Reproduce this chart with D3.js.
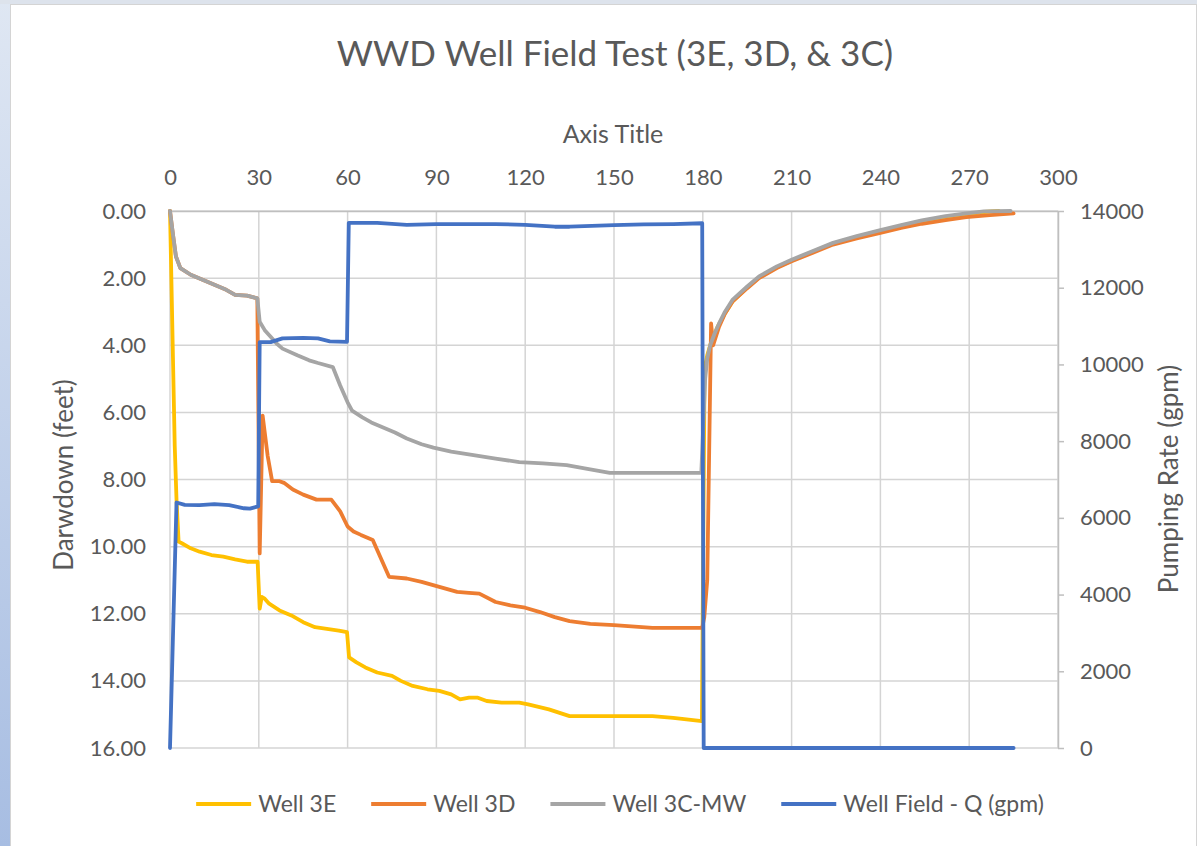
<!DOCTYPE html>
<html>
<head>
<meta charset="utf-8">
<script src="https://cdn.jsdelivr.net/npm/d3@7"></script>
<style>
  html, body { margin: 0; padding: 0; background: #ffffff; }
  svg { display: block; }
  text { font-family: Lato, "Open Sans", sans-serif; fill: #595959; }
</style>
</head>
<body>
<svg id="chart" width="1197" height="846"></svg>
<script>
// time (minutes) vs drawdown (feet) and pumping rate (gpm)
const TITLE = "WWD Well Field Test (3E, 3D, & 3C)";
const X_TICKS = [0, 30, 60, 90, 120, 150, 180, 210, 240, 270, 300];
const Y_LEFT_TICKS = [0, 2, 4, 6, 8, 10, 12, 14, 16];
const Y_RIGHT_TICKS = [0, 2000, 4000, 6000, 8000, 10000, 12000, 14000];

const well3E = [
  [0, 0], [0.8, 3.5], [1.6, 7.0], [2.2, 8.6], [2.9, 9.85], [4, 9.9], [7, 10.05], [10, 10.15],
  [14, 10.25], [18, 10.3], [22, 10.38], [26, 10.45], [29.6, 10.45], [30.3, 11.85], [31, 11.5],
  [32, 11.55], [33.5, 11.7], [37, 11.9], [41, 12.05], [45, 12.25], [49, 12.4], [53, 12.45],
  [57, 12.5], [59.8, 12.55], [60.5, 13.3], [63, 13.45], [66, 13.6], [70, 13.75], [75, 13.85],
  [78, 14.0], [82, 14.15], [87, 14.25], [91, 14.3], [95, 14.4], [98, 14.55], [101, 14.5],
  [104, 14.5], [107, 14.6], [112, 14.65], [118, 14.65], [121, 14.7], [128, 14.85], [135, 15.05],
  [150, 15.05], [163, 15.05], [170, 15.1], [179.7, 15.2],
  [180.6, 4.7], [181.5, 4.3], [183, 3.85], [185, 3.45], [187.5, 3.05], [190, 2.7], [195, 2.28],
  [199, 1.98], [205, 1.68], [210, 1.48], [217, 1.22], [224, 0.97], [232, 0.77], [240, 0.59],
  [247, 0.44], [254, 0.3], [262, 0.18], [269, 0.1], [275, 0.03], [280, 0]
];

const well3D = [
  [0, 0], [1, 0.7], [2, 1.35], [3.5, 1.7], [7, 1.9], [11, 2.05], [15, 2.2], [19, 2.35],
  [22, 2.5], [26, 2.52], [29.5, 2.6],
  [30.3, 10.2], [31.3, 6.1], [33, 7.3], [34.5, 8.05], [37, 8.05], [38.5, 8.1], [41.5, 8.3],
  [45, 8.45], [49.5, 8.6], [54.5, 8.6], [57.5, 8.95], [60, 9.4], [62, 9.55], [64.5, 9.65],
  [68.5, 9.8], [74, 10.9], [80, 10.95], [85, 11.05], [91, 11.2],
  [97, 11.35], [101, 11.38], [104.5, 11.4], [110, 11.65], [115, 11.75], [120, 11.82],
  [125, 11.95], [130, 12.1], [135, 12.22], [142, 12.3], [150, 12.34], [163, 12.42], [179.8, 12.42],
  [180.5, 12.1], [181.5, 11.0], [182.8, 3.35], [183.5, 4.0], [185.5, 3.45], [187.5, 3.05],
  [190, 2.7], [195, 2.3], [199, 2.0], [205, 1.7], [210, 1.5], [217, 1.25], [224, 1.0],
  [232, 0.82], [240, 0.65], [247, 0.5], [254, 0.38], [262, 0.27], [269, 0.18], [277, 0.12], [285, 0.07]
];

const well3C = [
  [0, 0], [1, 0.7], [2, 1.35], [3.5, 1.7], [7, 1.9], [11, 2.05], [15, 2.2], [19, 2.35],
  [22, 2.5], [26, 2.52], [29.5, 2.6], [30.3, 3.3], [32, 3.55], [34, 3.75], [36, 3.95],
  [38, 4.1], [43, 4.3], [47, 4.45], [50, 4.53], [55, 4.65], [57.5, 5.2], [60, 5.7],
  [61.5, 5.95], [65, 6.15], [68, 6.3], [72, 6.45], [76, 6.6], [80, 6.78], [85, 6.95],
  [89, 7.05], [95, 7.17], [102, 7.27], [110, 7.38], [118, 7.48], [126, 7.52], [134, 7.57],
  [141, 7.68], [148.6, 7.8], [165, 7.8], [179.5, 7.8],
  [180.8, 5.0], [181.5, 4.4], [182.5, 4.0], [184, 3.65], [185.5, 3.35], [187.5, 3.0],
  [190, 2.65], [195, 2.25], [199, 1.95], [205, 1.65], [210, 1.45], [217, 1.2], [224, 0.95],
  [232, 0.75], [240, 0.57], [247, 0.42], [254, 0.28], [262, 0.15], [269, 0.07], [275, 0.01], [284, 0]
];

const wellFieldQ = [
  [0, 0], [2.2, 6400], [5, 6340], [10, 6330], [15, 6360], [20, 6330], [25, 6250], [27, 6240],
  [29.8, 6300], [30.3, 10580], [34, 10580], [38, 10680], [45, 10690], [50, 10680], [54, 10600],
  [59.8, 10590], [60.4, 13690], [70, 13690], [80, 13640], [90, 13660], [110, 13660],
  [120, 13640], [130, 13590], [135, 13590], [150, 13630], [160, 13650], [170, 13660],
  [179.8, 13680], [180.3, 0], [285, 0]
];

const SERIES_NAMES = ["Well 3E", "Well 3D", "Well 3C-MW", "Well Field - Q (gpm)"];
const COLORS = ["#FFC000", "#ED7D31", "#A5A5A5", "#4472C4"];

const svg = d3.select("#chart");
const W = 1197, H = 846;
const plot = {left: 170, right: 1058, top: 211, bottom: 748};

// screenshot frame: blue strip at left, thin strip at top
const defs = svg.append("defs");
const grad = defs.append("linearGradient").attr("id", "strip")
    .attr("x1", 0).attr("y1", 0).attr("x2", 0).attr("y2", 1);
grad.append("stop").attr("offset", "0%").attr("stop-color", "#dfe7f3");
grad.append("stop").attr("offset", "100%").attr("stop-color", "#a7bde2");
svg.append("rect").attr("x", 0).attr("y", 0).attr("width", W).attr("height", H).attr("fill", "url(#strip)");
svg.append("rect").attr("x", 0).attr("y", 0).attr("width", W).attr("height", 4).attr("fill", "#dde3ec");
svg.append("rect").attr("x", 10.5).attr("y", 4.5).attr("width", W - 11).attr("height", H - 4)
    .attr("fill", "#ffffff").attr("stroke", "#d4d4d4");

const x = d3.scaleLinear().domain([0, 300]).range([plot.left, plot.right]);
const yL = d3.scaleLinear().domain([0, 16]).range([plot.top, plot.bottom]);
const yR = d3.scaleLinear().domain([0, 14000]).range([plot.bottom, plot.top]);

// gridlines
const grid = svg.append("g").attr("stroke", "#d4d4d4").attr("stroke-width", 1.5);
grid.selectAll(".gx").data(X_TICKS).enter().append("line")
    .attr("x1", d => x(d)).attr("x2", d => x(d))
    .attr("y1", plot.top).attr("y2", plot.bottom);
grid.selectAll(".gy").data(Y_LEFT_TICKS).enter().append("line")
    .attr("x1", plot.left).attr("x2", plot.right)
    .attr("y1", d => yL(d)).attr("y2", d => yL(d));

// top (time) axis
const xAxis = svg.append("g")
    .attr("transform", `translate(0,${plot.top})`)
    .call(d3.axisTop(x).tickValues(X_TICKS).tickSize(0).tickPadding(26));
xAxis.select(".domain").attr("stroke", "#bfbfbf").attr("stroke-width", 1.5);

// left (drawdown) axis
const yAxisL = svg.append("g")
    .attr("transform", `translate(${plot.left},0)`)
    .call(d3.axisLeft(yL).tickValues(Y_LEFT_TICKS).tickFormat(d3.format(".2f")).tickSize(0).tickPadding(24));
yAxisL.select(".domain").remove();

// right (pumping rate) axis
const yAxisR = svg.append("g")
    .attr("transform", `translate(${plot.right},0)`)
    .call(d3.axisRight(yR).tickValues(Y_RIGHT_TICKS).tickFormat(d3.format("d"))
      .tickSize(6).tickSizeOuter(0).tickPadding(16));
yAxisR.select(".domain").attr("stroke", "#bfbfbf").attr("stroke-width", 1.5);
yAxisR.selectAll(".tick line").attr("stroke", "#bfbfbf").attr("stroke-width", 1.5);

svg.selectAll(".tick text").attr("font-size", 22).attr("font-family", "Lato").attr("fill", "#595959");

// lines
const lineL = d3.line().x(d => x(d[0])).y(d => yL(d[1]));
const lineR = d3.line().x(d => x(d[0])).y(d => yR(d[1]));
const series = [well3E, well3D, well3C];
const lines = svg.append("g").attr("fill", "none").attr("stroke-width", 3.8)
    .attr("stroke-linejoin", "round").attr("stroke-linecap", "round");
series.forEach((s, i) => {
  lines.append("path").datum(s).attr("d", lineL).attr("stroke", COLORS[i]);
});
lines.append("path").datum(wellFieldQ).attr("d", lineR).attr("stroke", COLORS[3]);

// titles
svg.append("text").attr("x", 615).attr("y", 66).attr("text-anchor", "middle")
    .attr("font-size", 35).text(TITLE);
svg.append("text").attr("x", 613).attr("y", 143).attr("text-anchor", "middle")
    .attr("font-size", 25).text("Axis Title");
svg.append("text").attr("transform", `translate(73,475) rotate(-90)`).attr("text-anchor", "middle")
    .attr("font-size", 26).text("Darwdown (feet)");
svg.append("text").attr("transform", `translate(1178,479) rotate(-90)`).attr("text-anchor", "middle")
    .attr("font-size", 26).text("Pumping Rate (gpm)");

// legend
const legend = svg.append("g");
const LEG_Y = 804, SWATCH = 55, GAP_TEXT = 7, GAP_ITEM = 35;
let cursor = 0;
SERIES_NAMES.forEach((name, i) => {
  const g = legend.append("g");
  g.append("line").attr("x1", 0).attr("x2", SWATCH).attr("y1", 0).attr("y2", 0)
      .attr("stroke", COLORS[i]).attr("stroke-width", 4);
  const t = g.append("text").attr("x", SWATCH + GAP_TEXT).attr("y", 0).attr("dy", "0.35em")
      .attr("font-size", 23).text(name);
  const w = SWATCH + GAP_TEXT + t.node().getComputedTextLength();
  g.attr("transform", `translate(${cursor},${LEG_Y})`);
  cursor += w + GAP_ITEM;
});
const totalW = cursor - GAP_ITEM;
legend.attr("transform", `translate(${620 - totalW / 2},0)`);
</script>
</body>
</html>
